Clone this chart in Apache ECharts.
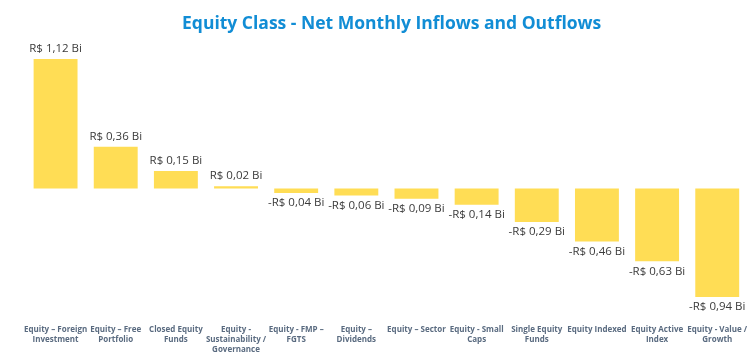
<!DOCTYPE html>
<html><head><meta charset="utf-8">
<script src="https://cdn.jsdelivr.net/npm/echarts@6/dist/echarts.min.js"></script>
<style>html,body{margin:0;padding:0;background:#fff}#c{width:750px;height:355px}</style>
</head><body><div id="c"></div>
<script>
var categories = [
  "Equity – Foreign\nInvestment",
  "Equity – Free\nPortfolio",
  "Closed Equity\nFunds",
  "Equity -\nSustainability /\nGovernance",
  "Equity - FMP –\nFGTS",
  "Equity –\nDividends",
  "Equity – Sector",
  "Equity - Small\nCaps",
  "Single Equity\nFunds",
  "Equity Indexed",
  "Equity Active\nIndex",
  "Equity - Value /\nGrowth"
];
var values = [1.12, 0.36, 0.15, 0.02, -0.04, -0.06, -0.09, -0.14, -0.29, -0.46, -0.63, -0.94];

function fmt(v){
  var s = Math.abs(v).toFixed(2).replace('.', ',');
  return (v < 0 ? '-' : '') + 'R$ ' + s + ' Bi';
}

var chart = echarts.init(document.getElementById('c'), null, {renderer:'canvas'});
chart.setOption({
  animation: false,
  title: {
    text: 'Equity Class - Net Monthly Inflows and Outflows',
    left: 177, top: 10,
    textStyle: {color: '#118DD5', fontSize: 17.5, fontWeight: 'bold', fontFamily: 'Open Sans'}
  },
  grid: {left: 25.5, right: -1, top: 49.8, height: 255.2, containLabel: false},
  xAxis: {
    type: 'category', data: categories,
    axisLine: {show: false}, axisTick: {show: false},
    axisLabel: {interval: 0, color: '#5A6B80', fontSize: 8, fontWeight: 'bold', fontFamily: 'Open Sans', lineHeight: 10, margin: 21}
  },
  yAxis: {
    type: 'value', min: -1, max: 1.2, show: false, splitLine: {show: false}
  },
  series: [{
    type: 'bar', data: values.map(function(v){
      return {value: v, label: {position: v >= 0 ? 'top' : 'bottom'}};
    }),
    barWidth: '73%',
    itemStyle: {color: '#FFDD55'},
    label: {
      show: true, distance: 4,
      formatter: function(p){ return fmt(p.value); },
      color: '#3B3B3B', fontSize: 11.5, fontFamily: 'Open Sans'
    }
  }]
});
</script></body></html>
